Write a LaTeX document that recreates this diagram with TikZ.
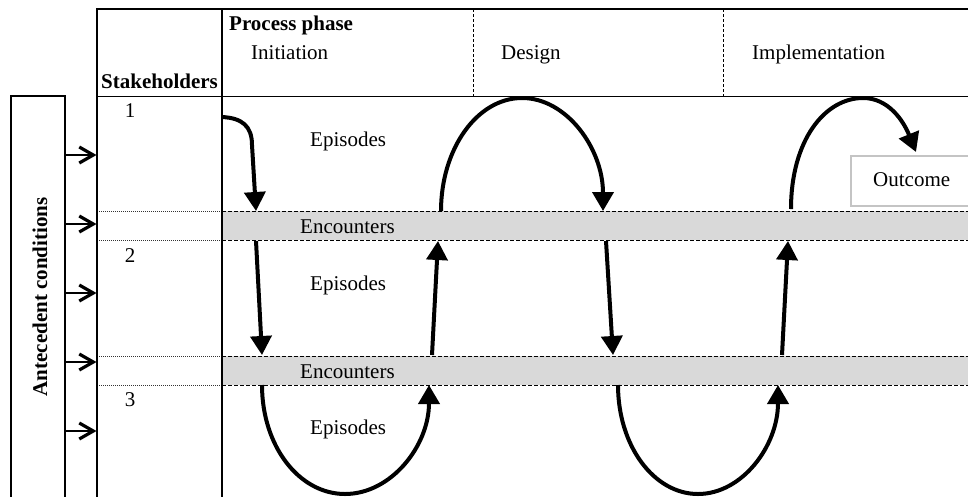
\documentclass[tikz,border=0pt]{standalone}
\usepackage{fontspec}
\setmainfont{Liberation Serif}
\usetikzlibrary{arrows.meta}
\definecolor{bandgray}{HTML}{D9D9D9}
\definecolor{boxgray}{HTML}{C4C4C4}
\begin{document}
\begin{tikzpicture}[x=1pt,y=-1pt,
  every node/.style={font=\fontsize{21}{25}\selectfont, inner sep=0pt},
  txt/.style={anchor=base west},
  ctxt/.style={anchor=base},
  bold/.style={font=\fontsize{21}{25}\selectfont\bfseries},
  frame/.style={line width=1.5pt},
  rule/.style={line width=1pt},
  phasesep/.style={line width=0.9pt, dash pattern=on 3pt off 2pt},
  banddot/.style={line width=1pt, dash pattern=on 1pt off 1pt, black!80},
  banddash/.style={line width=1pt, dash pattern=on 4pt off 2pt},
  flow/.style={line width=4pt, -{Triangle[length=19pt,width=21pt]}},
  feed/.style={line width=1.6pt, -{Straight Barb[length=14pt,width=16pt,line width=3.2pt]}}
]
% page area
\useasboundingbox[fill=white] (0,0) rectangle (968,496);

% grey encounter bands
\fill[bandgray] (222,211) rectangle (968,240);
\fill[bandgray] (222,356) rectangle (968,385);
\foreach \yy in {211,240,356,385}{
  \draw[banddot] (97,\yy) -- (222,\yy);
  \draw[banddash] (222,\yy) -- (968,\yy);
}

% table frame
\draw[frame] (968,9) -- (97,9) -- (97,500);
\draw[frame] (222,9) -- (222,500);
\draw[rule] (97,96) -- (968,96);
\draw[phasesep] (473,9) -- (473,96);
\draw[phasesep] (723,9) -- (723,96);

% antecedent conditions box
\draw[frame] (11,500) -- (11,96) -- (65,96) -- (65,500);
\node[bold, rotate=90] (ante) at (40,297) {Antecedent conditions};

% header texts
\node[txt, bold] (phase) at (229,30) {Process phase};
\node[txt] (init) at (251,59) {Initiation};
\node[txt] (design) at (501,59) {Design};
\node[txt] (impl) at (752,59) {Implementation};
\node[txt, bold] (stake) at (101,88) {Stakeholders};

% stakeholder numbers
\node[ctxt] (s1) at (130,117) {1};
\node[ctxt] (s2) at (130,262) {2};
\node[ctxt] (s3) at (130,406) {3};

% row labels
\node[txt] (ep1) at (310,146) {Episodes};
\node[txt] (ep2) at (310,290) {Episodes};
\node[txt] (ep3) at (310,434) {Episodes};
\node[txt] (enc1) at (300,233) {Encounters};
\node[txt] (enc2) at (300,378) {Encounters};

% outcome box
\draw[boxgray, line width=1.3pt] (990,156) -- (851,156) -- (851,206) -- (990,206);
\node[txt] (outcome) at (873,186) {Outcome};

% antecedent arrows into the rows
\foreach \yy [count=\i] in {155,224,293,362,431}{
  \coordinate (f\i s) at (65,\yy);
  \coordinate (f\i e) at (96.5,\yy);
  \draw[feed] (f\i s) -- (f\i e);
}

% flow endpoints
\coordinate (a1s) at (222,117);  \coordinate (a1e) at (256,211);
\coordinate (a2s) at (256,241);  \coordinate (a2e) at (262,355);
\coordinate (a3s) at (262,385);  \coordinate (a3e) at (429,385);
\coordinate (a4s) at (432,355);  \coordinate (a4e) at (438,241);
\coordinate (a5s) at (441,211);  \coordinate (a5e) at (603,211);
\coordinate (a6s) at (606,241);  \coordinate (a6e) at (613,355);
\coordinate (a7s) at (618,385);  \coordinate (a7e) at (778,385);
\coordinate (a8s) at (782,355);  \coordinate (a8e) at (788,241);
\coordinate (a9s) at (791,209);  \coordinate (a9e) at (916,152);

% process flow
\draw[flow] (a1s) .. controls (242,118) and (252,126) .. (252,145) -- (a1e);
\draw[flow] (a2s) -- (a2e);
\draw[flow] (a3s) .. controls (262,446) and (299,494) .. (345,494)
                  .. controls (391,494) and (429,446) .. (a3e);
\draw[flow] (a4s) -- (a4e);
\draw[flow] (a5s) .. controls (441,149) and (477,98) .. (522,98)
                  .. controls (567,98) and (603,149) .. (a5e);
\draw[flow] (a6s) -- (a6e);
\draw[flow] (a7s) .. controls (618,446) and (654,494) .. (698,494)
                  .. controls (742,494) and (778,446) .. (a7e);
\draw[flow] (a8s) -- (a8e);
\draw[flow] (a9s) .. controls (791,140) and (825,98) .. (863,98)
                  .. controls (888,98) and (903,120) .. (a9e);
\end{tikzpicture}
\end{document}
